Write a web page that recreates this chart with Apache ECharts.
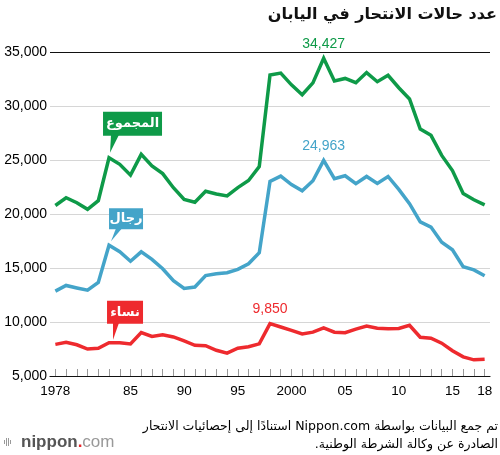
<!DOCTYPE html>
<html lang="ar">
<head>
    <meta charset="UTF-8">
    <title>عدد حالات الانتحار في اليابان</title>
    <style>
        html, body { margin: 0; padding: 0; background: #fff; }
        #container { width: 500px; height: 455px; direction: rtl; }
    </style>
</head>
<body>
<div id="container"></div>
<script src="https://cdn.jsdelivr.net/npm/echarts@6/dist/echarts.min.js"></script>
<script>
    var years = ['1978','1979','1980','1981','1982','1983','1984','1985','1986','1987',
                 '1988','1989','1990','1991','1992','1993','1994','1995','1996','1997',
                 '1998','1999','2000','2001','2002','2003','2004','2005','2006','2007',
                 '2008','2009','2010','2011','2012','2013','2014','2015','2016','2017','2018'];
    // المجموع
    var total = [20788,21503,21048,20434,21228,25202,24596,23599,25524,24460,
                 23742,22436,21346,21084,22104,21851,21679,22445,23104,24391,
                 32863,33048,31957,31042,32143,34427,32325,32552,32155,33093,
                 32249,32845,31690,30651,27858,27283,25427,24025,21897,21321,20840];
    // رجال
    var men = [12859,13386,13155,12942,13654,17116,16508,15624,16497,15802,
               14934,13818,13102,13242,14296,14468,14560,14874,15393,16416,
               23013,23512,22727,22144,23080,24963,23272,23540,22813,23478,
               22831,23472,22283,20955,19273,18787,17386,16681,15121,14826,14290];
    // نساء
    var women = [7929,8117,7893,7492,7574,8086,8088,7975,9027,8658,
                 8808,8618,8244,7842,7808,7383,7119,7571,7711,7975,
                 9850,9536,9230,8898,9063,9464,9053,9012,9342,9615,
                 9418,9373,9407,9696,8585,8496,8041,7344,6776,6495,6550];
    var xTickLabels = {'1978':'1978','1985':'85','1990':'90','1995':'95','2000':'2000',
                       '2005':'05','2010':'10','2015':'15','2018':'18'};
    var seriesNames = ['المجموع', 'رجال', 'نساء'];
    var peakYears = ['2003', '2003', '1998'];
    var tagYear = '1983';

    var colors = ['#0e9a48', '#44a4c9', '#ee2a2e'];
    var numFont = '"Liberation Sans", Arial, sans-serif';
    var arFont = '"DejaVu Sans", sans-serif';

    function withPeak(values, peakYear) {
        return values.map(function (v, i) {
            if (years[i] === peakYear) {
                return { value: v, label: { show: true } };
            }
            return v;
        });
    }

    var dom = document.getElementById('container');
    var myChart = echarts.init(dom);

    var allValues = [total, men, women];
    var series = allValues.map(function (vals, k) {
        return {
            name: seriesNames[k],
            type: 'line',
            data: withPeak(vals, peakYears[k]),
            symbol: 'circle',
            symbolSize: 0,
            showSymbol: true,
            silent: true,
            lineStyle: { color: colors[k], width: 3.5, join: 'miter' },
            itemStyle: { color: colors[k] },
            label: {
                show: false,
                position: 'top',
                distance: 7,
                color: colors[k],
                fontSize: 14,
                fontFamily: numFont,
                formatter: function (p) { return p.value.toLocaleString('en-US'); }
            },
            emphasis: { disabled: true },
            z: 3 - k
        };
    });

    var option = {
        animation: false,
        title: {
            text: 'عدد حالات الانتحار في اليابان',
            right: 3,
            top: 7,
            padding: 0,
            textStyle: { fontSize: 16, fontWeight: 'bold', color: '#111', fontFamily: arFont }
        },
        grid: { left: 50, right: 10, top: 52, bottom: 79 },
        xAxis: {
            type: 'category',
            data: years,
            boundaryGap: true,
            axisLine: { show: true, lineStyle: { color: '#111', width: 1.2 } },
            axisTick: {
                show: true, inside: true, length: 7, interval: 0, alignWithLabel: true,
                lineStyle: { color: '#999', width: 1 }
            },
            axisLabel: {
                interval: function (index, value) { return xTickLabels[value] !== undefined; },
                formatter: function (value) { return xTickLabels[value]; },
                margin: 8,
                color: '#000',
                fontSize: 13.5,
                fontFamily: numFont
            },
            splitLine: { show: false }
        },
        yAxis: {
            type: 'value',
            min: 5000,
            max: 35000,
            interval: 5000,
            axisLine: { show: false },
            axisTick: { show: false },
            axisLabel: {
                margin: 3,
                color: '#000',
                fontSize: 14,
                fontFamily: numFont,
                formatter: function (v) { return v.toLocaleString('en-US'); }
            },
            splitLine: {
                lineStyle: {
                    color: ['#111', '#d6d6d6', '#d6d6d6', '#d6d6d6', '#d6d6d6', '#d6d6d6', '#111'],
                    width: 1.2
                }
            }
        },
        series: series
    };

    myChart.setOption(option);

    // وسوم السلاسل وتذييل الرسم
    var tagBoxes = [
        { dx: -6, dy: -46, w: 59, h: 24, p1: 8, p2: 16, tx: 1, ty: -5 },
        { dx: 0, dy: -37, w: 34, h: 21, p1: 7, p2: 13, tx: 2, ty: -4 },
        { dx: -2, dy: -42, w: 36, h: 23, p1: 6, p2: 12, tx: 4, ty: -3 }
    ];
    var ti = years.indexOf(tagYear);
    var graphics = [];
    allValues.forEach(function (vals, k) {
        var pt = myChart.convertToPixel({ gridIndex: 0 }, [tagYear, vals[ti]]);
        var b = tagBoxes[k];
        var left = pt[0] + b.dx, top = pt[1] + b.dy, bottom = top + b.h;
        graphics.push({
            type: 'polygon', z: 10,
            shape: { points: [[left + b.p1, bottom - 1], [left + b.p2, bottom - 1], [pt[0] + b.tx, pt[1] + b.ty]] },
            style: { fill: colors[k] }
        });
        graphics.push({
            type: 'rect', z: 10,
            shape: { x: left, y: top, width: b.w, height: b.h },
            style: { fill: colors[k] }
        });
        graphics.push({
            type: 'text', z: 11,
            x: left + b.w / 2, y: top + b.h / 2,
            style: {
                text: seriesNames[k], fill: '#fff', font: 'bold 13px ' + arFont,
                textAlign: 'center', textVerticalAlign: 'middle'
            }
        });
    });

    graphics.push({
        type: 'text',
        x: 498, y: 418,
        style: {
            text: 'تم جمع البيانات بواسطة Nippon.com استنادًا إلى إحصائيات الانتحار\nالصادرة عن وكالة الشرطة الوطنية.',
            fill: '#000', font: '12.5px ' + arFont, lineHeight: 18,
            textAlign: 'right', textVerticalAlign: 'top'
        }
    });

    // شعار nippon.com
    var bars = [[4, 4], [6, 8], [8, 8], [10, 4]];
    bars.forEach(function (bb) {
        graphics.push({
            type: 'rect',
            shape: { x: bb[0], y: 442 - bb[1] / 2, width: 1, height: bb[1] },
            style: { fill: '#999' }
        });
    });
    graphics.push({
        type: 'text',
        x: 21, y: 442,
        style: {
            text: '{a|nippon}{b|.}{c|com}',
            textVerticalAlign: 'middle',
            rich: {
                a: { fontSize: 17, fontWeight: 'bold', fill: '#555', fontFamily: numFont },
                b: { fontSize: 17, fontWeight: 'bold', fill: '#e8262b', fontFamily: numFont },
                c: { fontSize: 17, fill: '#999', fontFamily: numFont }
            }
        }
    });

    myChart.setOption({ graphic: graphics });
</script>
</body>
</html>
